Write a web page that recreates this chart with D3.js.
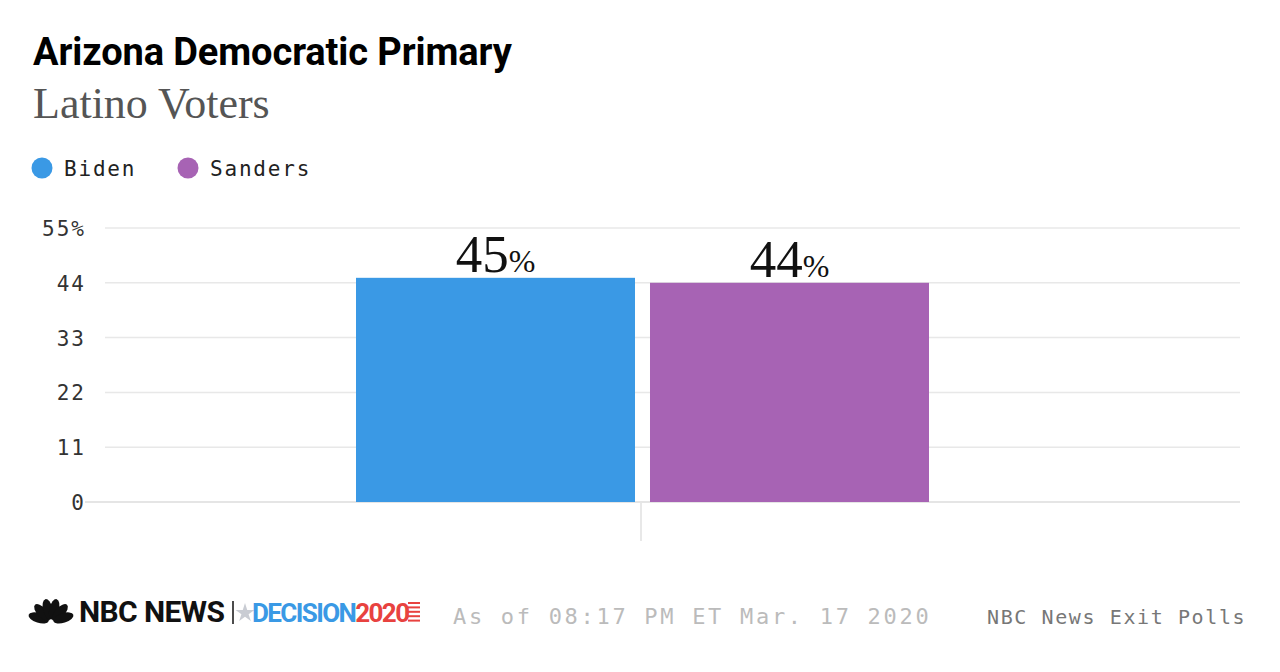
<!DOCTYPE html>
<html><head><meta charset="utf-8">
<script src="https://cdn.jsdelivr.net/npm/d3@7"></script>
<style>body{margin:0;background:#fff}svg{display:block}</style>
</head><body>
<script>
const categories = ["Latino Voters"];
const seriesNames = ["Biden", "Sanders"];
const seriesValues = [45, 44];
const seriesColors = ["#3a99e5", "#a763b4"];
const yTicks = [0, 11, 22, 33, 44, 55];
const yTickLabels = ["0", "11", "22", "33", "44", "55%"];

const W = 1280, H = 672;
const svg = d3.select("body").append("svg").attr("width", W).attr("height", H);
const mono = "'DejaVu Sans Mono', 'Liberation Mono', monospace";

svg.append("text").attr("x", 33).attr("y", 65)
  .style("font-family", "Roboto, 'Liberation Sans', sans-serif").style("font-weight", 700)
  .style("font-size", "38px").style("letter-spacing", "-0.1px").attr("fill", "#000")
  .text("Arizona Democratic Primary");
svg.append("text").attr("x", 33).attr("y", 118)
  .style("font-family", "'Liberation Serif', 'DejaVu Serif', serif")
  .style("font-size", "44px").attr("fill", "#555").text("Latino Voters");

// legend
const leg = svg.append("g");
const legX = [42, 188];
seriesNames.forEach((n, i) => {
  leg.append("circle").attr("cx", legX[i]).attr("cy", 168).attr("r", 10.5).attr("fill", seriesColors[i]);
  leg.append("text").attr("x", legX[i] + 22).attr("y", 176)
    .style("font-family", mono).style("font-size", "21px").style("letter-spacing", "1.8px")
    .attr("fill", "#222").text(n);
});

const y = d3.scaleLinear().domain([0, 55]).range([502, 228]);
const x0 = d3.scaleBand().domain(categories).range([356, 929]).padding(0);
const x1 = d3.scaleBand().domain(seriesNames).range([0, x0.bandwidth()]).paddingInner(0.051);

// gridlines
svg.append("g").selectAll("line").data(yTicks).join("line")
  .attr("x1", d => d === 0 ? 85 : 105).attr("x2", 1240)
  .attr("y1", d => y(d)).attr("y2", d => y(d))
  .attr("stroke", d => d === 0 ? "#dcdcdc" : "#e8e8e8").attr("stroke-width", 1.5);

svg.append("g").selectAll("text").data(yTicks).join("text")
  .attr("x", 86).attr("y", d => y(d) + 8).attr("text-anchor", "end")
  .style("font-family", mono).style("font-size", "21px").style("letter-spacing", "2px")
  .attr("fill", "#333").text((d, i) => yTickLabels[i]);

// category tick
const cx = x0(categories[0]) + x0.bandwidth() / 2;
svg.append("line").attr("x1", cx - 1.5).attr("x2", cx - 1.5).attr("y1", 503).attr("y2", 541)
  .attr("stroke", "#e0e0e0").attr("stroke-width", 1.5);

// bars
const g = svg.append("g").attr("transform", `translate(${x0(categories[0])},0)`);
g.selectAll("rect").data(seriesValues).join("rect")
  .attr("x", (d, i) => x1(seriesNames[i])).attr("width", x1.bandwidth())
  .attr("y", d => y(d)).attr("height", d => y(0) - y(d))
  .attr("fill", (d, i) => seriesColors[i]);

const lbl = g.selectAll("text.v").data(seriesValues).join("text").attr("class", "v")
  .attr("x", (d, i) => x1(seriesNames[i]) + x1.bandwidth() / 2)
  .attr("y", d => y(d) - 6).attr("text-anchor", "middle")
  .style("font-family", "'Liberation Serif', 'DejaVu Serif', serif").attr("fill", "#111");
lbl.append("tspan").style("font-size", "53px").text(d => d);
lbl.append("tspan").style("font-size", "32px").text("%");

// footer logo (peacock)
const logo = svg.append("g").attr("transform", "translate(51,622)");
const petals = [-72, -43, -14, 14, 43, 72];
petals.forEach(a => {
  logo.append("ellipse").attr("cx", 0).attr("cy", -13).attr("rx", 4.8).attr("ry", 10.5)
    .attr("fill", "#111").attr("transform", `rotate(${a})`);
});
svg.append("text").attr("x", 79).attr("y", 622)
  .style("font-family", "Roboto, 'Liberation Sans', sans-serif").style("font-weight", 700)
  .style("font-size", "30px").style("letter-spacing", "-0.6px").attr("fill", "#111").text("NBC NEWS");
svg.append("line").attr("x1", 233).attr("x2", 233).attr("y1", 601).attr("y2", 624).attr("stroke", "#111").attr("stroke-width", 1.5);
svg.append("path").attr("d", d3.symbol(d3.symbolStar, 110)()).attr("transform", "translate(245,613)").attr("fill", "#c9ccd3");
const dec = svg.append("text").attr("x", 252).attr("y", 622)
  .style("font-family", "Roboto, 'Liberation Sans', sans-serif").style("font-weight", 700)
  .style("font-size", "26px").style("letter-spacing", "-1.6px");
dec.append("tspan").attr("fill", "#3a99e5").text("DECISION");
dec.append("tspan").attr("fill", "#e8423f").text("2020");
[0, 1, 2, 3, 4].forEach(i => {
  svg.append("rect").attr("x", 408).attr("y", 602 + i * 4.4).attr("width", 12).attr("height", 2).attr("fill", "#e8423f");
});

svg.append("text").attr("x", 453).attr("y", 624)
  .style("font-family", mono).style("font-size", "22px").style("letter-spacing", "2.7px")
  .attr("fill", "#bbb").text("As of 08:17 PM ET Mar. 17 2020");
svg.append("text").attr("x", 987).attr("y", 624)
  .style("font-family", mono).style("font-size", "20px").style("letter-spacing", "1.6px")
  .attr("fill", "#777").text("NBC News Exit Polls");
</script>
</body></html>
